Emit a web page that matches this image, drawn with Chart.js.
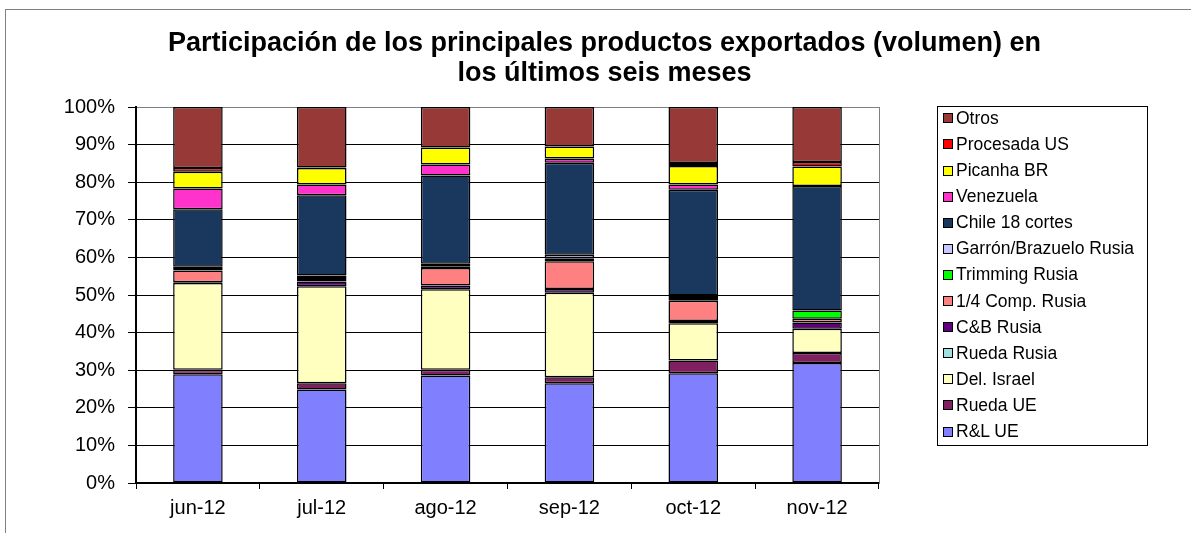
<!DOCTYPE html>
<html>
<head>
<meta charset="utf-8">
<script src="https://cdn.jsdelivr.net/npm/chart.js@4.4.1/dist/chart.umd.min.js"></script>
<style>
  body { margin: 0; width: 1191px; height: 533px; overflow: hidden; background: #fff; position: relative; }
  #marco { position: absolute; left: 5px; top: 9px; width: 1300px; height: 600px; border-left: 1px solid #808080; border-top: 1px solid #808080; }
  #grafico { position: absolute; left: 0; top: 0; }
  #leyenda { position: absolute; left: 937px; top: 106px; width: 209px; height: 338px; border: 1px solid #000; background: #fff; }
  .item { position: absolute; left: 5px; height: 26px; display: flex; align-items: center; font: 17.5px "Liberation Sans", Arial, sans-serif; color: #000; white-space: nowrap; }
  .item .caja { width: 8px; height: 8px; border: 1px solid #000; margin-right: 3px; }
</style>
</head>
<body>
<div id="marco"></div>
<canvas id="grafico" width="1191" height="533"></canvas>
<div id="leyenda"></div>
<script>
// meses
const meses = ['jun-12', 'jul-12', 'ago-12', 'sep-12', 'oct-12', 'nov-12'];

// participación (%) de cada producto, de abajo hacia arriba en la columna
const rlUE        = [28.9, 24.9, 28.6, 26.5, 29.2, 31.9];
const ruedaUE     = [1.2, 1.6, 1.5, 1.6, 3.4, 2.7];
const delIsrael   = [23.1, 25.8, 21.4, 22.5, 9.9, 6.4];
const ruedaRusia  = [0, 0, 0, 0, 0, 0];
const cbRusia     = [0.2, 1.3, 1.0, 1.0, 0.6, 1.7];
const compRusia   = [3.1, 0.4, 4.7, 7.4, 5.4, 1.0];
const trimming    = [0.7, 0.8, 0.3, 0.8, 0.7, 2.2];
const garron      = [0.3, 0.4, 0.8, 0.9, 0.7, 0];
const chile       = [15.3, 21.3, 23.5, 24.5, 28.1, 33.1];
const venezuela   = [5.5, 2.9, 2.9, 1.1, 1.4, 0];
const picanha     = [4.5, 4.4, 4.5, 3.2, 4.9, 5.2];
const procesadaUS = [1.0, 0.1, 0, 0, 0.8, 1.2];
const otros       = [16.2, 16.1, 10.8, 10.5, 14.9, 14.6];

const marcasY = [0, 10, 20, 30, 40, 50, 60, 70, 80, 90, 100];

const series = [
  { label: 'R&L UE', data: rlUE, color: '#8080FF' },
  { label: 'Rueda UE', data: ruedaUE, color: '#802060' },
  { label: 'Del. Israel', data: delIsrael, color: '#FFFFC0' },
  { label: 'Rueda Rusia', data: ruedaRusia, color: '#A0E0E0' },
  { label: 'C&B Rusia', data: cbRusia, color: '#600080' },
  { label: '1/4 Comp. Rusia', data: compRusia, color: '#FF8080' },
  { label: 'Trimming Rusia', data: trimming, color: '#00FF00' },
  { label: 'Garrón/Brazuelo Rusia', data: garron, color: '#C8C8FF' },
  { label: 'Chile 18 cortes', data: chile, color: '#1A375E' },
  { label: 'Venezuela', data: venezuela, color: '#FF33CC' },
  { label: 'Picanha BR', data: picanha, color: '#FFFF00' },
  { label: 'Procesada US', data: procesadaUS, color: '#FF0000' },
  { label: 'Otros', data: otros, color: '#973A37' },
];

document.addEventListener('DOMContentLoaded', () => {
  Chart.defaults.font.family = '"Liberation Sans", Arial, sans-serif';
  Chart.defaults.color = '#000';

  const chart = new Chart(document.getElementById('grafico'), {
    type: 'bar',
    data: {
      labels: meses,
      datasets: series.map((s) => ({
        label: s.label,
        data: s.data,
        backgroundColor: s.color,
        borderColor: '#000',
        borderWidth: 1.5,
        borderSkipped: false,
        barPercentage: 0.4,
        categoryPercentage: 1,
      })),
    },
    options: {
      responsive: false,
      animation: false,
      layout: { padding: { left: 18, right: 0, top: 0, bottom: 0 } },
      plugins: {
        legend: { display: false },
        tooltip: { enabled: false },
        title: {
          display: true,
          text: ['Participación de los principales productos exportados (volumen) en', 'los últimos seis meses'],
          font: { size: 27, weight: 'bold', lineHeight: 1.1 },
          color: '#000',
          padding: { top: 29, bottom: 18.6 },
        },
      },
      scales: {
        x: {
          stacked: true,
          grid: { offset: true, drawOnChartArea: false, drawTicks: true, tickLength: 6, color: '#000' },
          border: { color: '#000', width: 2 },
          ticks: { font: { size: 20 }, padding: 7, color: '#000' },
          afterFit: (scale) => { scale.height = 50; },
        },
        y: {
          stacked: true,
          min: 0,
          max: 100,
          afterBuildTicks: (scale) => { scale.ticks = marcasY.map((v) => ({ value: v })); },
          ticks: { font: { size: 20 }, padding: 13, color: '#000', callback: (v) => v + '%' },
          grid: {
            color: (ctx) => (ctx.tick && ctx.tick.value === 100 ? '#808080' : '#000'),
            tickColor: '#000',
            tickLength: 8,
            lineWidth: 1,
          },
          border: { color: '#000', width: 2 },
          afterFit: (scale) => { scale.width = 118; },
        },
        // eje vacío a la derecha: deja espacio para la leyenda y dibuja el borde gris
        y2: {
          position: 'right',
          display: true,
          ticks: { display: false },
          grid: { drawOnChartArea: false, drawTicks: false },
          border: { color: '#808080', width: 1 },
          afterFit: (scale) => { scale.width = 312; },
        },
      },
    },
  });

  // leyenda en orden inverso, como en la planilla
  const leyenda = document.getElementById('leyenda');
  chart.data.datasets.slice().reverse().forEach((ds, i) => {
    const item = document.createElement('div');
    item.className = 'item';
    item.style.top = (-1.7 + i * 26.1) + 'px';
    item.innerHTML = `<span class="caja" style="background:${ds.backgroundColor}"></span>${ds.label}`;
    leyenda.appendChild(item);
  });
});
</script>
</body>
</html>
